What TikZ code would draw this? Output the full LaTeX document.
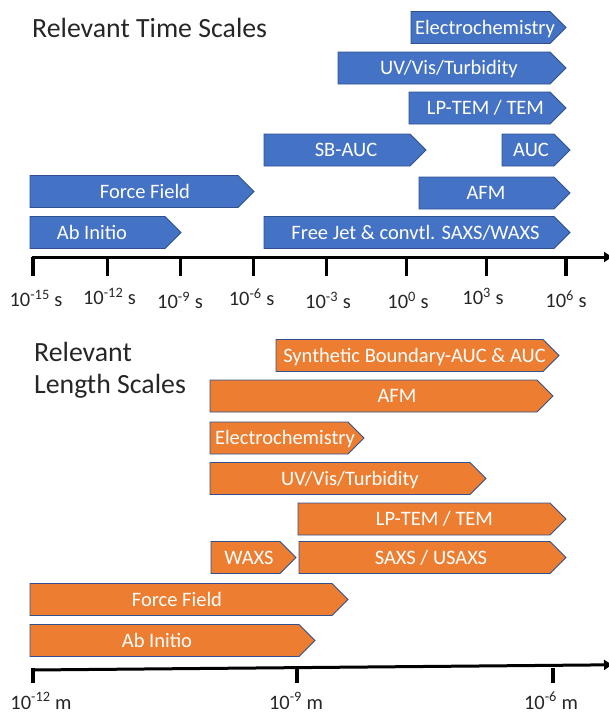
\documentclass[tikz,border=0pt]{standalone}
\usepackage{fontspec}
\setmainfont{Carlito}
\usetikzlibrary{arrows.meta}
\definecolor{timeColor}{HTML}{4472C4}
\definecolor{lenColor}{HTML}{ED7D31}
\definecolor{edgeColor}{HTML}{2F528F}
\definecolor{txtColor}{HTML}{262626}
\tikzset{
	tbar/.style={fill=timeColor, draw=edgeColor, line width=0.8pt},
	lbar/.style={fill=lenColor, draw=edgeColor, line width=0.8pt},
	barlab/.style={text=white, font=\fontsize{20.5}{24}\selectfont, inner sep=0pt, text height=13.2pt, text depth=0pt},
	axlab/.style={text=txtColor, font=\fontsize{20.5}{24}\selectfont, inner sep=0pt, text height=13.2pt, text depth=0pt},
	ttl/.style={text=txtColor, font=\fontsize{27.8}{32}\selectfont, inner sep=0pt, align=left},
	axisline/.style={line width=3pt, -{Triangle[length=8pt,width=10pt]}},
	tickmark/.style={line width=3.5pt}
}
% bar with pointed end: style, name, left x, tip x, mid y, text x, text
\newcommand{\chev}[7][tbar]{%
	\draw[#1] (#3,{#5-16}) -- ({#4-16},{#5-16}) -- (#4,#5) -- ({#4-16},{#5+16}) -- (#3,{#5+16}) -- cycle;
	\node[barlab] (#2) at (#6,#5) {#7};}

\begin{document}
\begin{tikzpicture}[x=1pt, y=-1pt]
	\useasboundingbox (0,0) rectangle (609,715);
	
	% time scales
	\node[ttl, anchor=west] (ttime) at (32,27.5) {Relevant Time Scales};
	\chev{t1}{411}{566}{27.5}{485}{Electrochemistry}
	\chev{t2}{338}{566}{68}{449}{UV/Vis/Turbidity}
	\chev{t3}{409}{566}{108}{485.5}{LP-TEM / TEM}
	\chev{t4}{264}{426}{150}{346}{SB-AUC}
	\chev{t5}{502}{570}{150}{531}{AUC}
	\chev{t6}{30}{254}{191.5}{145}{Force Field}
	\chev{t7}{419}{570}{193}{486}{AFM}
	\chev{t8}{30}{181}{232.5}{92}{Ab Initio}
	\chev{t9}{264}{570}{232.5}{415.5}{Free Jet \& convtl. SAXS/WAXS}
	
	\coordinate (ta) at (32,257);
	\coordinate (tb) at (612,257);
	\draw[axisline] (ta) -- (tb);
	\foreach \x/\lx/\ly/\e [count=\i] in {33/36/300/-15, 107.6/109.5/298/-12, 180.6/180/302/-9, 253.6/251.6/299/-6, 326.6/328/302/-3, 406.6/408/302/0, 486.6/483/298/3, 565.8/566/301/6}{
		\draw[tickmark] (\x,257) -- (\x,276);
		\node[axlab] (ts\i) at (\lx,\ly) {10\textsuperscript{\e} s};
	}
	
	% length scales
	\node[ttl, anchor=west] (tlen) at (34,370.5) {Relevant\\Length Scales};
	\chev[lbar]{l1}{276}{559}{355.5}{414.5}{Synthetic Boundary-AUC \& AUC}
	\chev[lbar]{l2}{210}{553}{396}{397}{AFM}
	\chev[lbar]{l3}{210}{364}{438}{285}{Electrochemistry}
	\chev[lbar]{l4}{210}{486}{478.5}{350}{UV/Vis/Turbidity}
	\chev[lbar]{l5}{298}{566}{519}{434.5}{LP-TEM / TEM}
	\chev[lbar]{l6}{211}{296}{557.5}{249}{WAXS}
	\chev[lbar]{l7}{299}{566}{557.5}{431}{SAXS / USAXS}
	\chev[lbar]{l8}{30}{348}{599.5}{177}{Force Field}
	\chev[lbar]{l9}{30}{315}{640.5}{157}{Ab Initio}
	
	\coordinate (la) at (32,670);
	\coordinate (lb) at (612,664.8);
	\draw[axisline] (la) -- (lb);
	\foreach \x/\lx/\e [count=\i] in {33/41/-12, 297/296/-9, 553/551/-6}{
		\draw[tickmark] (\x,668) -- (\x,683);
		\node[axlab] (ls\i) at (\lx,702.5) {10\textsuperscript{\e} m};
	}
\end{tikzpicture}
\end{document}
